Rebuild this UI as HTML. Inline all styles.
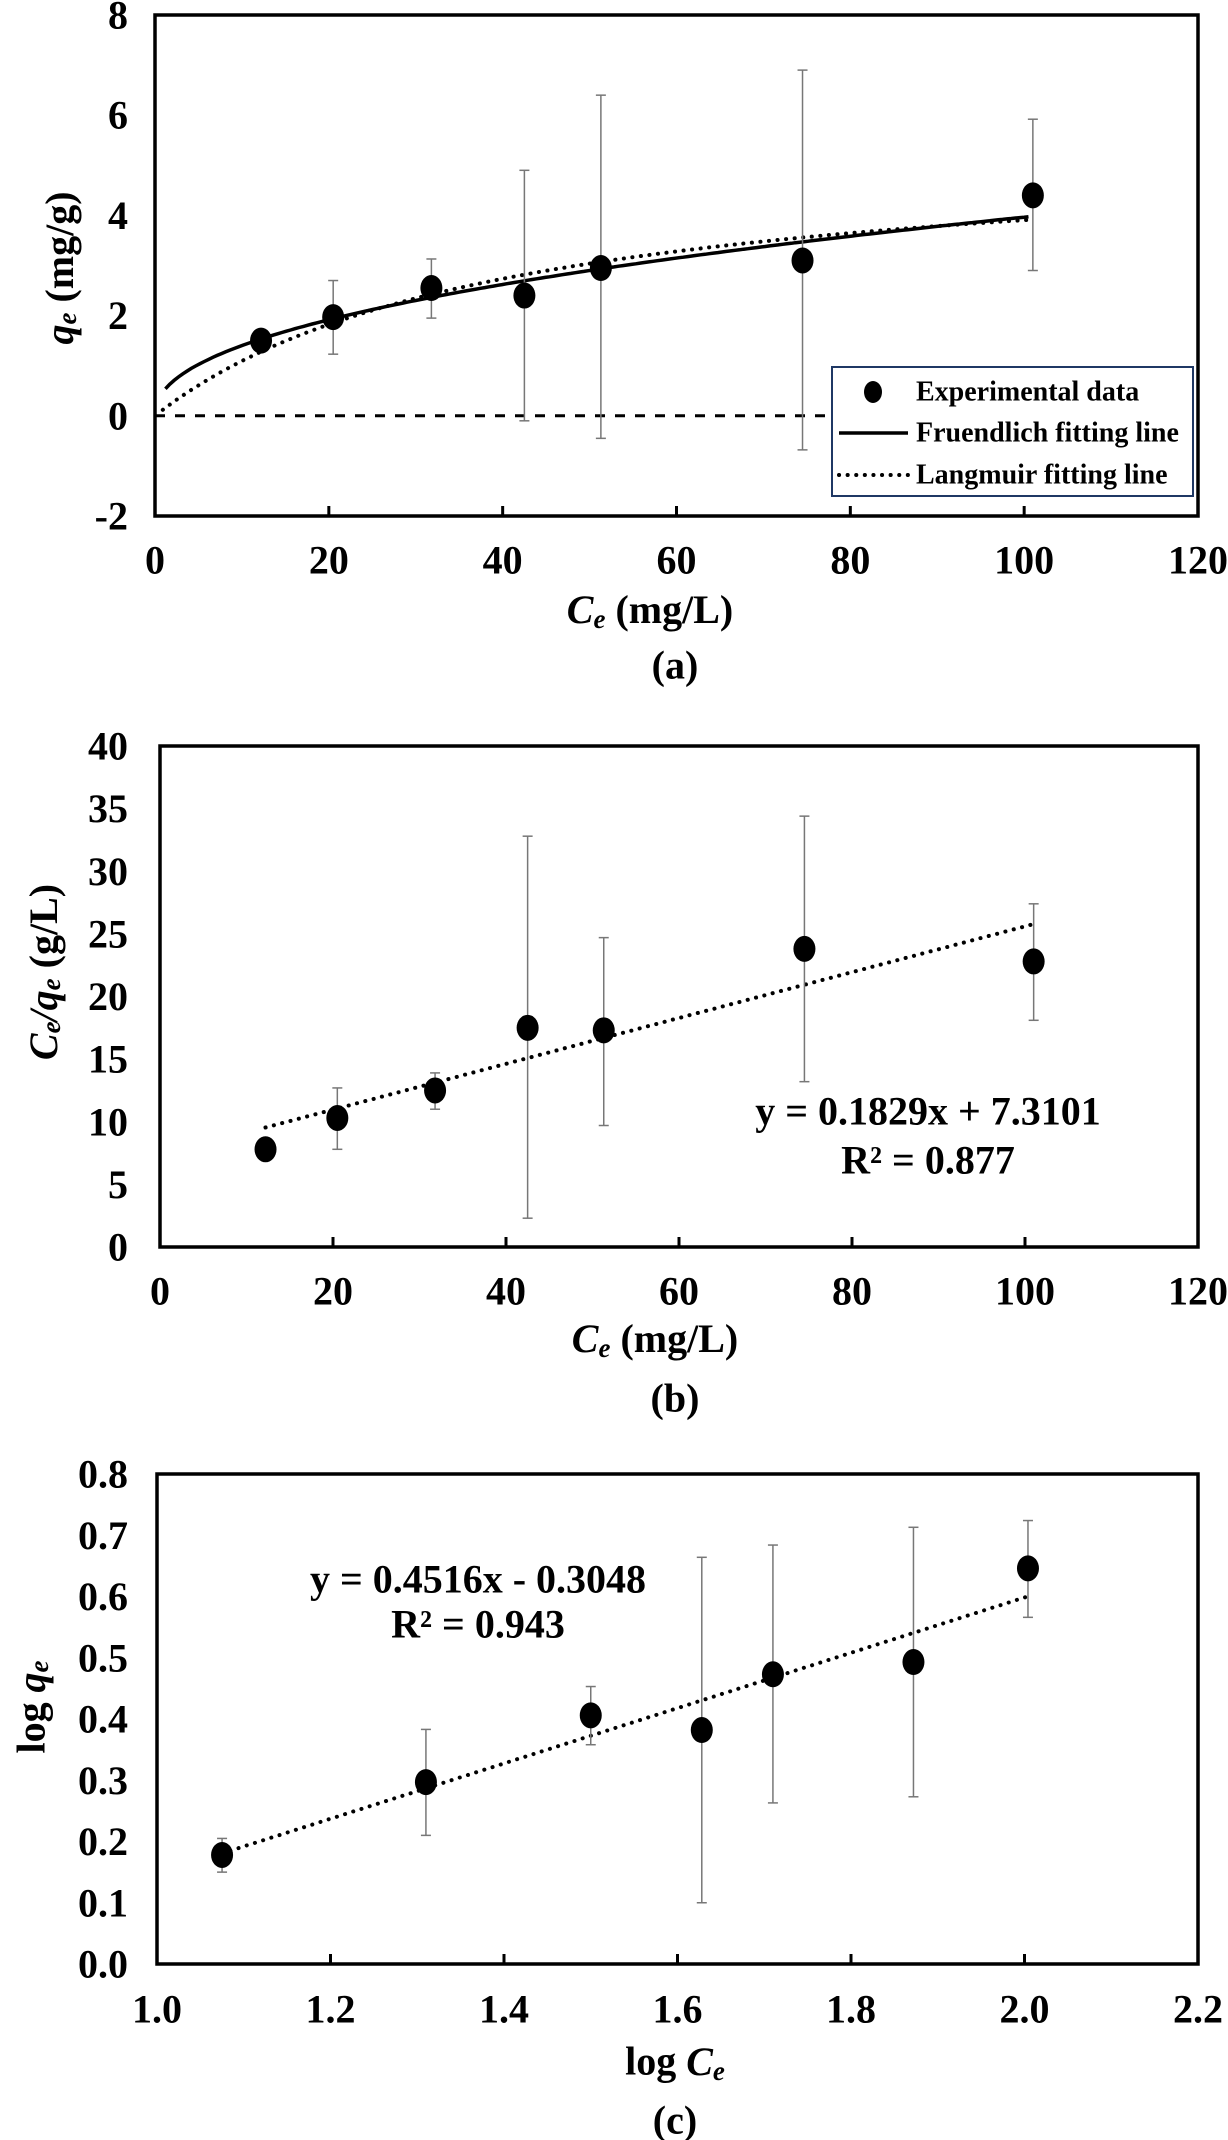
<!DOCTYPE html>
<html><head><meta charset="utf-8">
<style>
html,body{margin:0;padding:0;background:#fff;}
svg{display:block;}
text{font-family:"Liberation Serif",serif;font-weight:bold;fill:#000;}
</style></head>
<body>
<svg id="s" width="1228" height="2140" xmlns="http://www.w3.org/2000/svg"></svg>
<script>
const s=document.getElementById('s');
let h='';
function P(L,R,T,B,x0,x1,y0,y1){return {X:x=>L+(x-x0)/(x1-x0)*(R-L),Y:y=>B-(y-y0)/(y1-y0)*(B-T),L,R,T,B};}
function frame(p,xt,yt,xl,yl,ylab){
  h+=`<rect x="${p.L}" y="${p.T}" width="${p.R-p.L}" height="${p.B-p.T}" fill="none" stroke="#000" stroke-width="3.5"/>`;
  xt.forEach((v,i)=>{const x=p.X(v);h+=`<line x1="${x}" y1="${p.B}" x2="${x}" y2="${p.B-10}" stroke="#000" stroke-width="3"/>`;
    h+=`<text x="${x}" y="${xl}" font-size="40" text-anchor="middle" dominant-baseline="central">${ylab?xt.lab[i]:v}</text>`;});
}
function ylabels(p,yt,labs,xr){yt.forEach((v,i)=>{h+=`<text x="${xr}" y="${p.Y(v)}" font-size="40" text-anchor="end" dominant-baseline="central">${labs[i]}</text>`;});}
function pts(p,d){d.forEach(a=>{const x=p.X(a[0]);
  if(a.length>2){const y1=p.Y(a[2]),y2=p.Y(a[3]);h+=`<line x1="${x}" y1="${y1}" x2="${x}" y2="${y2}" stroke="#777" stroke-width="1.5"/><line x1="${x-5}" y1="${y1}" x2="${x+5}" y2="${y1}" stroke="#777" stroke-width="1.5"/><line x1="${x-5}" y1="${y2}" x2="${x+5}" y2="${y2}" stroke="#777" stroke-width="1.5"/>`;}
  h+=`<ellipse cx="${x}" cy="${p.Y(a[1])}" rx="11" ry="13" fill="#000"/>`;});}
function curve(p,f,a,b,style){let d='';for(let i=0;i<=200;i++){const x=a+(b-a)*i/200;d+=(i?'L':'M')+p.X(x).toFixed(1)+','+p.Y(f(x)).toFixed(1);}
  h+=`<path d="${d}" fill="none" stroke="#000" ${style}/>`;}
const DOT='stroke-width="4" stroke-dasharray="0.1 8.5" stroke-linecap="round"';
// Panel a
let a=P(155,1198,15,516,0,120,-2,8);
curve(a,x=>0,0,78.5,'stroke-width="3" stroke-dasharray="10 10"');
curve(a,x=>0.4955*Math.pow(x,0.4516),1.2,100.5,'stroke-width="3.5"');
curve(a,x=>x/(0.1829*x+7.3101),0.9,100.5,DOT);
pts(a,[[12.2,1.5,1.3,1.7],[20.5,1.97,1.23,2.7],[31.8,2.55,1.95,3.13],[42.5,2.4,-0.1,4.9],[51.3,2.95,-0.45,6.4],[74.5,3.1,-0.68,6.9],[101,4.4,2.9,5.92]]);
frame(a,[0,20,40,60,80,100,120],null,560);
ylabels(a,[-2,0,2,4,6,8],['-2','0','2','4','6','8'],128);
h+=`<rect x="832" y="367" width="361" height="129" fill="#fff" stroke="#1f3864" stroke-width="2"/>`;
h+=`<ellipse cx="873" cy="392" rx="9" ry="11" fill="#000"/><line x1="839" y1="433" x2="908" y2="433" stroke="#000" stroke-width="3.5"/><line x1="839" y1="475" x2="908" y2="475" stroke="#000" ${DOT}/>`;
[['Experimental data',392],['Fruendlich fitting line',433],['Langmuir fitting line',475]].forEach(t=>h+=`<text x="916" y="${t[1]}" font-size="28" dominant-baseline="central">${t[0]}</text>`);
h+=`<text x="650" y="609" font-size="40" text-anchor="middle" dominant-baseline="central"><tspan font-style="italic">C</tspan><tspan font-style="italic" font-size="27" dy="10">e</tspan><tspan dy="-10"> (mg/L)</tspan></text>`;
h+=`<text x="675" y="665" font-size="40" text-anchor="middle" dominant-baseline="central">(a)</text>`;
h+=`<text transform="translate(59,268) rotate(-90)" font-size="40" text-anchor="middle" dominant-baseline="central"><tspan font-style="italic">q</tspan><tspan font-style="italic" font-size="27" dy="8">e</tspan><tspan dy="-8"> (mg/g)</tspan></text>`;
// Panel b
let b=P(160,1198,746,1247,0,120,0,40);
curve(b,x=>0.1829*x+7.3101,12.2,100.8,DOT);
pts(b,[[12.2,7.8],[20.5,10.3,7.8,12.7],[31.8,12.5,11,13.9],[42.5,17.5,2.3,32.8],[51.3,17.3,9.7,24.7],[74.5,23.8,13.2,34.4],[101,22.8,18.1,27.4]]);
frame(b,[0,20,40,60,80,100,120],null,1291);
ylabels(b,[0,5,10,15,20,25,30,35,40],['0','5','10','15','20','25','30','35','40'],128);
h+=`<text x="928" y="1111" font-size="40" text-anchor="middle" dominant-baseline="central">y = 0.1829x + 7.3101</text>`;
h+=`<text x="928" y="1160" font-size="40" text-anchor="middle" dominant-baseline="central">R² = 0.877</text>`;
h+=`<text x="655" y="1338" font-size="40" text-anchor="middle" dominant-baseline="central"><tspan font-style="italic">C</tspan><tspan font-style="italic" font-size="27" dy="10">e</tspan><tspan dy="-10"> (mg/L)</tspan></text>`;
h+=`<text x="675" y="1398" font-size="40" text-anchor="middle" dominant-baseline="central">(b)</text>`;
h+=`<text transform="translate(43,972) rotate(-90)" font-size="40" text-anchor="middle" dominant-baseline="central"><tspan font-style="italic">C</tspan><tspan font-style="italic" font-size="27" dy="8">e</tspan><tspan dy="-8" font-style="italic">/q</tspan><tspan font-style="italic" font-size="27" dy="8">e</tspan><tspan dy="-8"> (g/L)</tspan></text>`;
// Panel c
let c=P(157,1198,1474,1964,1.0,2.2,0,0.8);
curve(c,x=>0.4516*x-0.3048,1.075,2.004,DOT);
pts(c,[[1.075,0.178,0.15,0.205],[1.31,0.297,0.21,0.383],[1.5,0.406,0.358,0.453],[1.628,0.382,0.1,0.664],[1.71,0.473,0.263,0.684],[1.872,0.493,0.273,0.713],[2.004,0.646,0.566,0.724]]);
let xt=[1.0,1.2,1.4,1.6,1.8,2.0,2.2];xt.lab=xt.map(v=>v.toFixed(1));
frame(c,xt,null,2009,null,true);
ylabels(c,[0,0.1,0.2,0.3,0.4,0.5,0.6,0.7,0.8],['0.0','0.1','0.2','0.3','0.4','0.5','0.6','0.7','0.8'],128);
h+=`<text x="478" y="1579" font-size="40" text-anchor="middle" dominant-baseline="central">y = 0.4516x - 0.3048</text>`;
h+=`<text x="478" y="1624" font-size="40" text-anchor="middle" dominant-baseline="central">R² = 0.943</text>`;
h+=`<text x="675" y="2061" font-size="40" text-anchor="middle" dominant-baseline="central">log <tspan font-style="italic">C</tspan><tspan font-style="italic" font-size="27" dy="10">e</tspan></text>`;
h+=`<text x="675" y="2120" font-size="40" text-anchor="middle" dominant-baseline="central">(c)</text>`;
h+=`<text transform="translate(31,1707) rotate(-90)" font-size="40" text-anchor="middle" dominant-baseline="central">log <tspan font-style="italic">q</tspan><tspan font-style="italic" font-size="27" dy="8">e</tspan></text>`;
s.innerHTML=h;
</script>
</body></html>
